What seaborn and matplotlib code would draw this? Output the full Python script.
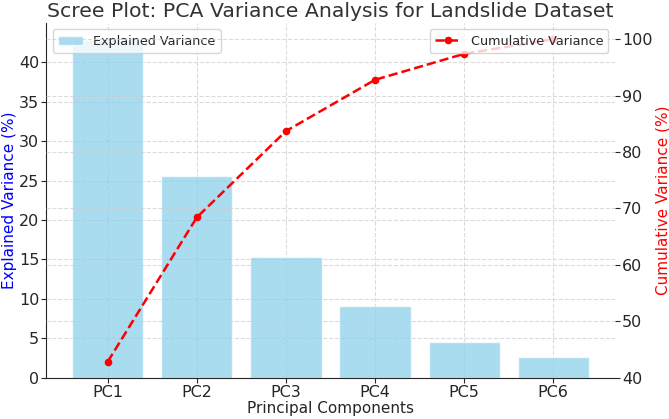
import matplotlib
matplotlib.use("Agg")
import matplotlib.pyplot as plt
import seaborn as sns

# Data
components = ['PC1', 'PC2', 'PC3', 'PC4', 'PC5', 'PC6']
explained = [42.8, 25.6, 15.3, 9.1, 4.6, 2.6]
cumulative = [42.8, 68.4, 83.7, 92.8, 97.4, 100.0]

sns.set_style("ticks")
plt.rcParams['font.family'] = ['DejaVu Sans']

fig, ax1 = plt.subplots(figsize=(6.69, 4.19), dpi=100)
fig.subplots_adjust(left=0.069, right=0.919, bottom=0.098, top=0.945)

sns.barplot(x=components, y=explained, color='skyblue', alpha=0.7,
            saturation=1, width=0.8, ax=ax1, label='Explained Variance')
ax1.set_xlabel('Principal Components', fontsize=11, labelpad=1)
ax1.set_ylabel('Explained Variance (%)', color='blue', fontsize=11, labelpad=1.5)
ax1.tick_params(labelsize=11.5, length=3.5, pad=1.5)
ax1.grid(True, linestyle='--', alpha=0.7)
ax1.set_axisbelow(True)
ax1.legend(loc='upper left', fontsize=9.2)

ax2 = ax1.twinx()
sns.lineplot(x=components, y=cumulative, color='red', linestyle='--',
             marker='o', markersize=5.5, markeredgewidth=0, linewidth=1.8,
             ax=ax2, label='Cumulative Variance')
ax2.set_ylabel('Cumulative Variance (%)', color='red', fontsize=11, labelpad=2)
ax2.tick_params(labelsize=11.5, length=3.5, pad=1.5)
ax2.grid(True, linestyle='--', alpha=0.7)
ax2.legend(loc='upper right', fontsize=9.2)

for ax in (ax1, ax2):
    ax.spines['top'].set_visible(False)
    ax.spines['right'].set_visible(False)
ax2.spines['left'].set_visible(False)
ax2.spines['bottom'].set_visible(False)

ax1.set_title('Scree Plot: PCA Variance Analysis for Landslide Dataset',
              fontsize=14.7, pad=4, color='#333333')

fig.savefig('out.png', dpi=100)
